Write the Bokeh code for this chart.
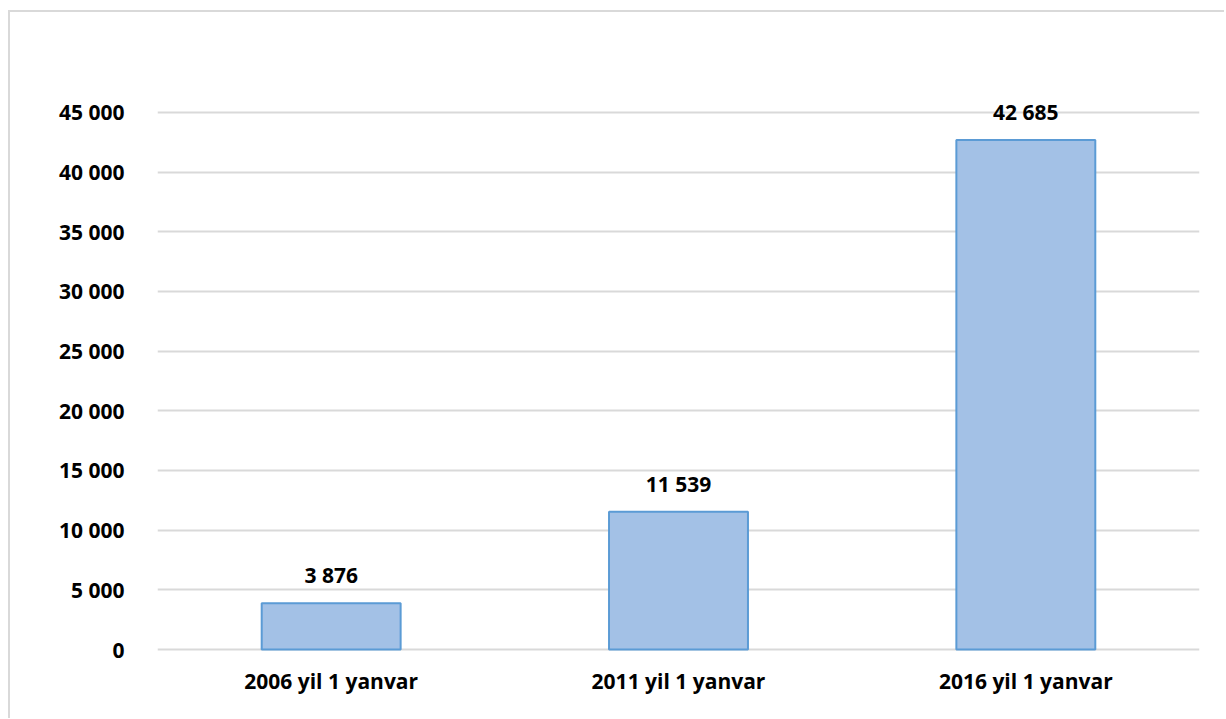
from bokeh.plotting import figure
from bokeh.models import ColumnDataSource, FixedTicker, LabelSet
from bokeh.core.properties import value
from bokeh.embed import file_html
from bokeh.resources import INLINE

categories = ["2006 yil 1 yanvar", "2011 yil 1 yanvar", "2016 yil 1 yanvar"]
values = [3876, 11539, 42685]
value_labels = ["3 876", "11 539", "42 685"]
tick_values = [0, 5000, 10000, 15000, 20000, 25000, 30000, 35000, 40000, 45000]
tick_labels = ["0", "5 000", "10 000", "15 000", "20 000", "25 000", "30 000", "35 000", "40 000", "45 000"]

FONT = "Open Sans"

src = ColumnDataSource(dict(cat=categories, val=values, lab=value_labels))

p = figure(
    x_range=categories, y_range=(-250, 47000),
    width=1216, height=708,
    output_backend="svg", toolbar_location=None,
    min_border_left=147, min_border_right=27, min_border_top=76, min_border_bottom=68,
    styles={"margin-left": "8px", "margin-top": "10px",
            "border-left": "2px solid #D9D9D9", "border-top": "2px solid #D9D9D9"},
)
p.outline_line_color = None
p.background_fill_color = "white"
p.border_fill_color = "white"

p.vbar(x="cat", top="val", bottom=0, width=0.4, source=src,
       fill_color="#A3C1E6", line_color="#5B9BD5", line_width=2)

labels = LabelSet(x="cat", y="val", text="lab", source=src, text_align="center",
                  text_baseline="bottom", y_offset=14, text_font=value(FONT),
                  text_font_style="bold", text_font_size="21px", text_color="#000000")
p.add_layout(labels)

p.yaxis.ticker = FixedTicker(ticks=tick_values)
p.yaxis.major_label_overrides = {t: l for t, l in zip(tick_values, tick_labels)}
p.yaxis.axis_line_color = None
p.yaxis.major_tick_line_color = None
p.yaxis.minor_tick_line_color = None
p.yaxis.major_label_standoff = 27
p.yaxis.major_label_text_font = FONT
p.yaxis.major_label_text_font_style = "bold"
p.yaxis.major_label_text_font_size = "21px"
p.yaxis.major_label_text_color = "#000000"

p.xaxis.axis_line_color = None
p.xaxis.major_tick_line_color = None
p.xaxis.minor_tick_line_color = None
p.xaxis.major_label_standoff = 8
p.xaxis.major_label_text_font = FONT
p.xaxis.major_label_text_font_style = "bold"
p.xaxis.major_label_text_font_size = "21px"
p.xaxis.major_label_text_color = "#000000"

p.xgrid.grid_line_color = None
p.ygrid.ticker = FixedTicker(ticks=tick_values)
p.ygrid.grid_line_color = "#D9D9D9"
p.ygrid.grid_line_width = 2

open("out.html", "w").write(file_html(p, INLINE))
